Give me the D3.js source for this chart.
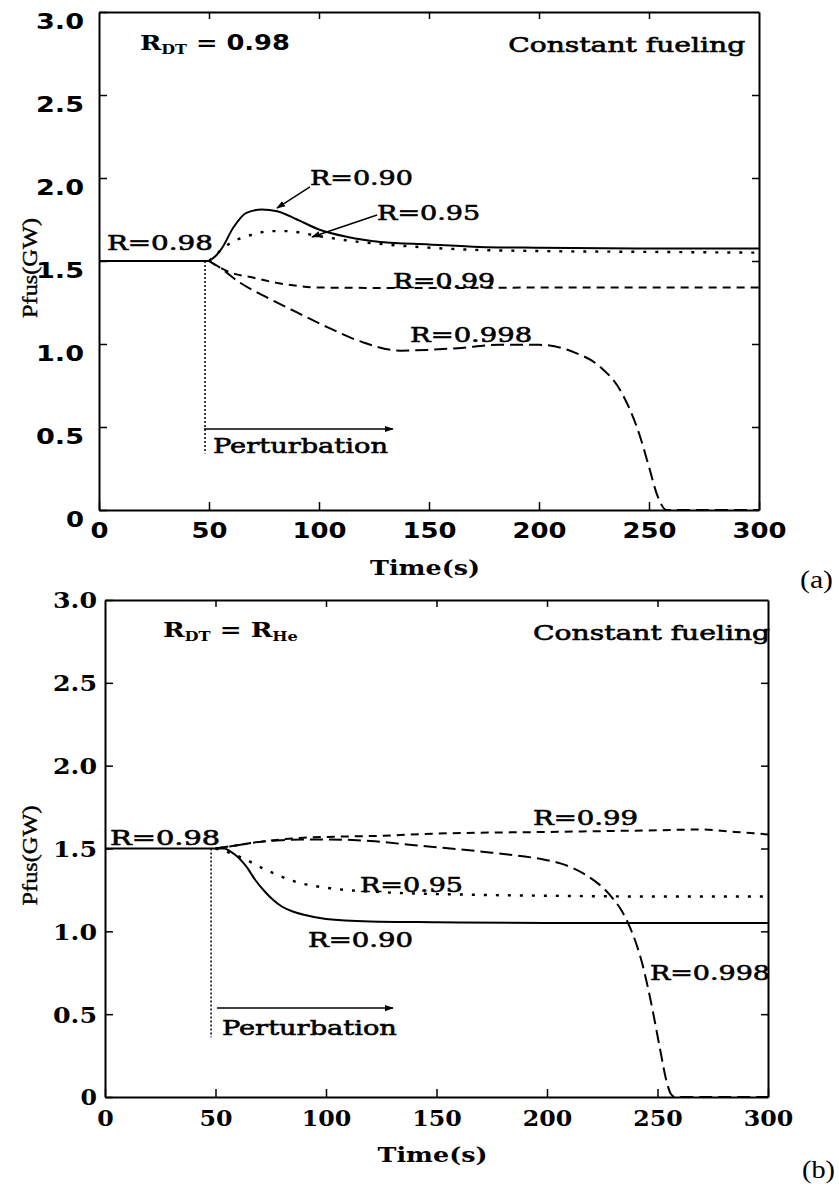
<!DOCTYPE html>
<html>
<head>
<meta charset="utf-8">
<script src="https://cdn.jsdelivr.net/npm/d3@7"></script>
<style>
  body { margin: 0; background: #fff; }
  svg { display: block; }
</style>
</head>
<body>
<svg width="839" height="1190"></svg>
<script>
// values: time in s, Pfus in GW
const xTicks = [0, 50, 100, 150, 200, 250, 300];
const yTicks = [0, 0.5, 1.0, 1.5, 2.0, 2.5, 3.0];

// steady state before the perturbation (R=0.98)
const baseT = [0, 50];
const baseP = [1.5, 1.5];

// panel (a): R_DT = 0.98
const a090T = [50, 53, 56, 61, 67, 74, 81, 90, 100, 113, 128, 150, 173, 200, 250, 300];
const a090P = [1.50, 1.53, 1.58, 1.70, 1.79, 1.81, 1.80, 1.75, 1.69, 1.645, 1.615, 1.60, 1.585, 1.58, 1.575, 1.575];
const a095T = [50, 55, 60, 65, 70, 78, 85, 100, 115, 130, 165, 200, 250, 300];
const a095P = [1.50, 1.56, 1.61, 1.64, 1.66, 1.68, 1.68, 1.65, 1.62, 1.60, 1.57, 1.56, 1.555, 1.55];
const a099T = [50, 55, 60, 70, 80, 90, 100, 150, 200, 250, 300];
const a099P = [1.50, 1.46, 1.43, 1.40, 1.37, 1.35, 1.34, 1.337, 1.34, 1.34, 1.34];
const a0998T = [50, 55, 64, 75, 90, 104, 120, 137, 150, 163, 182, 200, 216, 228, 237, 246, 250, 254, 258, 300];
const a0998P = [1.50, 1.46, 1.37, 1.29, 1.19, 1.10, 1.01, 0.96, 0.965, 0.975, 0.995, 0.995, 0.95, 0.86, 0.72, 0.44, 0.26, 0.08, 0, 0];

// panel (b): R_DT = R_He
const b090T = [50, 54, 57, 60, 64, 68, 72, 76, 80, 85, 90, 100, 120, 150, 200, 300];
const b090P = [1.50, 1.50, 1.48, 1.45, 1.39, 1.31, 1.245, 1.19, 1.15, 1.12, 1.10, 1.075, 1.06, 1.055, 1.05, 1.05];
const b095T = [50, 55, 61, 73, 86, 102, 120, 170, 200, 250, 300];
const b095P = [1.50, 1.48, 1.45, 1.37, 1.30, 1.26, 1.24, 1.22, 1.215, 1.21, 1.21];
const b099T = [50, 60, 70, 80, 90, 100, 120, 150, 200, 250, 270, 285, 300];
const b099P = [1.50, 1.52, 1.54, 1.555, 1.565, 1.57, 1.575, 1.59, 1.60, 1.61, 1.615, 1.60, 1.585];
const b0998T = [50, 60, 70, 80, 90, 100, 120, 140, 160, 175, 188, 198, 206, 212, 217, 222, 226, 230, 234, 237, 240, 243, 246, 248, 251, 254, 256, 258, 300];
const b0998P = [1.50, 1.52, 1.54, 1.55, 1.555, 1.555, 1.545, 1.52, 1.495, 1.475, 1.455, 1.435, 1.41, 1.38, 1.345, 1.30, 1.255, 1.195, 1.12, 1.04, 0.94, 0.81, 0.64, 0.51, 0.30, 0.10, 0.02, 0, 0];

const SOLID = null, DOTTED = "3,9", SHORT = "8,6", LONG = "13,6";
const serif = "'DejaVu Serif', serif";

const panels = [
  {
    left: 99, right: 759, top: 12, bottom: 510,
    tickFont: "'DejaVu Sans', sans-serif", digitW: 18, dotW: 12,
    xPad: 12, yPad: 15, yDy: "0.75em",
    tag: "(a)", tagX: 800, tagY: 588,
    series: [
      { t: baseT, p: baseP, dash: SOLID },
      { t: a090T, p: a090P, dash: SOLID },
      { t: a095T, p: a095P, dash: DOTTED },
      { t: a099T, p: a099P, dash: SHORT },
      { t: a0998T, p: a0998P, dash: LONG }
    ],
    notes: [
      { text: "R=0.98", t: 3.6, v: 1.566, w: 106 },
      { text: "R=0.90", t: 95.9, v: 1.958, w: 103 },
      { text: "R=0.95", t: 126.4, v: 1.747, w: 103 },
      { text: "R=0.99", t: 133.6, v: 1.337, w: 102 },
      { text: "R=0.998", t: 141.4, v: 1.012, w: 122 },
      { text: "Perturbation", t: 51.8, v: 0.343, w: 175 },
      { text: "Constant fueling", t: 186, v: 2.76, w: 237 }
    ],
    arrows: [
      [[95.9, 1.946], [80.9, 1.819]],
      [[126.4, 1.777], [96.8, 1.645]]
    ],
    pert: { t: 48.2, from: 1.5, to: 0.34, a0: 47.7, a1: 133.6, av: 0.488 },
    rdt: { t: 18.6, v: 2.77, w: 150, parts: [["R", 0, serif], ["DT", 1, serif], [" = ", 0, serif], ["0.98", 0, "'DejaVu Sans', sans-serif"]] }
  },
  {
    left: 105, right: 768, top: 600, bottom: 1097,
    tickFont: serif, digitW: 16.5, dotW: 11,
    xPad: 13, yPad: 8, yDy: "0.36em",
    tag: "(b)", tagX: 802, tagY: 1178,
    series: [
      { t: baseT, p: baseP, dash: SOLID },
      { t: b090T, p: b090P, dash: SOLID },
      { t: b095T, p: b095P, dash: DOTTED },
      { t: b099T, p: b099P, dash: SHORT },
      { t: b0998T, p: b0998P, dash: LONG }
    ],
    notes: [
      { text: "R=0.98", t: 2.3, v: 1.52, w: 110 },
      { text: "R=0.99", t: 193.7, v: 1.64, w: 105 },
      { text: "R=0.95", t: 115.4, v: 1.237, w: 103 },
      { text: "R=0.90", t: 91.9, v: 0.905, w: 105 },
      { text: "R=0.998", t: 246.6, v: 0.706, w: 120 },
      { text: "Perturbation", t: 52.9, v: 0.374, w: 175 },
      { text: "Constant fueling", t: 193.7, v: 2.758, w: 237 }
    ],
    arrows: [],
    pert: { t: 48, from: 1.5, to: 0.36, a0: 50.7, a1: 130.3, av: 0.537 },
    rdt: { t: 26.2, v: 2.776, w: 135, parts: [["R", 0, serif], ["DT", 1, serif], [" = R", 0, serif], ["He", 1, serif]] }
  }
];

const svg = d3.select("svg");

// arrow head
svg.append("defs").append("marker")
    .attr("id", "head")
    .attr("viewBox", "0 0 10 10")
    .attr("refX", 9).attr("refY", 5)
    .attr("markerWidth", 9).attr("markerHeight", 9)
    .attr("markerUnits", "userSpaceOnUse")
    .attr("orient", "auto")
  .append("path")
    .attr("d", "M0,1.5L10,5L0,8.5Z")
    .attr("fill", "#000");

const fmt = d => d === 0 ? "0" : d3.format(".1f")(d);

function drawPanel(p) {
    const x = d3.scaleLinear().domain([0, 300]).range([p.left, p.right]);
    const y = d3.scaleLinear().domain([0, 3]).range([p.bottom, p.top]);
    const g = svg.append("g");
    const labelWidth = s => [...s].reduce((a, c) => a + (c === "." ? p.dotW : p.digitW), 0);

    // frame, ticks pointing inward on all four sides
    const xAx = g.append("g")
        .attr("transform", `translate(0,${p.bottom})`)
        .call(d3.axisBottom(x).tickValues(xTicks).tickSize(-8).tickSizeOuter(0).tickPadding(p.xPad));
    const yAx = g.append("g")
        .attr("transform", `translate(${p.left},0)`)
        .call(d3.axisLeft(y).tickValues(yTicks).tickFormat(fmt).tickSize(-8).tickSizeOuter(0).tickPadding(p.yPad));
    g.append("g")
        .attr("transform", `translate(0,${p.top})`)
        .call(d3.axisTop(x).tickValues(xTicks.slice(1, -1)).tickSize(-7).tickSizeOuter(0).tickFormat(""));
    g.append("g")
        .attr("transform", `translate(${p.right},0)`)
        .call(d3.axisRight(y).tickValues(yTicks.slice(1, -1)).tickSize(-7).tickSizeOuter(0).tickFormat(""));

    g.selectAll(".domain").attr("stroke", "#000").attr("stroke-width", 2);
    g.selectAll(".tick line").attr("stroke", "#000").attr("stroke-width", 1.5);

    xAx.selectAll("text")
        .attr("textLength", d => labelWidth(String(d)));
    yAx.selectAll("text")
        .attr("dy", p.yDy)
        .attr("textLength", d => labelWidth(fmt(d)));
    g.selectAll(".tick text")
        .attr("font-family", p.tickFont)
        .attr("font-weight", "bold")
        .attr("font-size", 22)
        .attr("fill", "#000")
        .attr("lengthAdjust", "spacingAndGlyphs");

    // curves
    const line = d3.line()
        .x(d => x(d[0]))
        .y(d => y(d[1]))
        .curve(d3.curveMonotoneX);

    for (const s of p.series) {
        g.append("path")
            .datum(d3.zip(s.t, s.p))
            .attr("d", line)
            .attr("fill", "none")
            .attr("stroke", "#000")
            .attr("stroke-width", s.dash === DOTTED ? 2.4 : 2)
            .attr("stroke-dasharray", s.dash);
    }

    // perturbation marker
    g.append("line")
        .attr("x1", x(p.pert.t)).attr("x2", x(p.pert.t))
        .attr("y1", y(p.pert.from)).attr("y2", y(p.pert.to))
        .attr("stroke", "#000").attr("stroke-width", 1.5)
        .attr("stroke-dasharray", "2,2");
    g.append("line")
        .attr("x1", x(p.pert.a0)).attr("x2", x(p.pert.a1))
        .attr("y1", y(p.pert.av)).attr("y2", y(p.pert.av))
        .attr("stroke", "#000").attr("stroke-width", 1.5)
        .attr("marker-end", "url(#head)");

    for (const [a, b] of p.arrows) {
        g.append("line")
            .attr("x1", x(a[0])).attr("y1", y(a[1]))
            .attr("x2", x(b[0])).attr("y2", y(b[1]))
            .attr("stroke", "#000").attr("stroke-width", 1.5)
            .attr("marker-end", "url(#head)");
    }

    // text labels (slightly thickened to look like the printed serif)
    for (const n of p.notes) {
        g.append("text")
            .attr("x", x(n.t)).attr("y", y(n.v))
            .attr("font-family", serif)
            .attr("font-size", 20.5)
            .attr("stroke", "#000")
            .attr("stroke-width", 0.6)
            .attr("textLength", n.w)
            .attr("lengthAdjust", "spacingAndGlyphs")
            .text(n.text);
    }

    const rdt = g.append("text")
        .attr("x", x(p.rdt.t)).attr("y", y(p.rdt.v))
        .attr("font-weight", "bold")
        .attr("font-size", 21);
    let shift = 0;
    for (const [txt, sub, font] of p.rdt.parts) {
        const dy = sub ? 4 - shift : -shift;
        shift += dy;
        rdt.append("tspan")
            .attr("dy", dy)
            .attr("font-family", font)
            .attr("font-size", sub ? 13 : 21)
            .text(txt);
    }
    rdt.attr("textLength", p.rdt.w).attr("lengthAdjust", "spacingAndGlyphs");

    // axis titles
    g.append("text")
        .attr("x", (p.left + p.right) / 2 - 4)
        .attr("y", p.bottom + 65)
        .attr("text-anchor", "middle")
        .attr("font-family", serif)
        .attr("font-weight", "bold")
        .attr("font-size", 21)
        .attr("textLength", 110)
        .attr("lengthAdjust", "spacingAndGlyphs")
        .text("Time(s)");

    g.append("text")
        .attr("transform", `translate(37,${(p.top + p.bottom) / 2 + 7}) rotate(-90)`)
        .attr("text-anchor", "middle")
        .attr("font-family", "'Liberation Serif', serif")
        .attr("font-size", 22)
        .attr("stroke", "#000")
        .attr("stroke-width", 0.4)
        .attr("textLength", 100)
        .attr("lengthAdjust", "spacingAndGlyphs")
        .text("Pfus(GW)");

    g.append("text")
        .attr("x", p.tagX).attr("y", p.tagY)
        .attr("font-family", "'Liberation Serif', serif")
        .attr("font-size", 26)
        .attr("textLength", 33)
        .attr("lengthAdjust", "spacingAndGlyphs")
        .text(p.tag);
}

panels.forEach(drawPanel);
</script>
</body>
</html>
